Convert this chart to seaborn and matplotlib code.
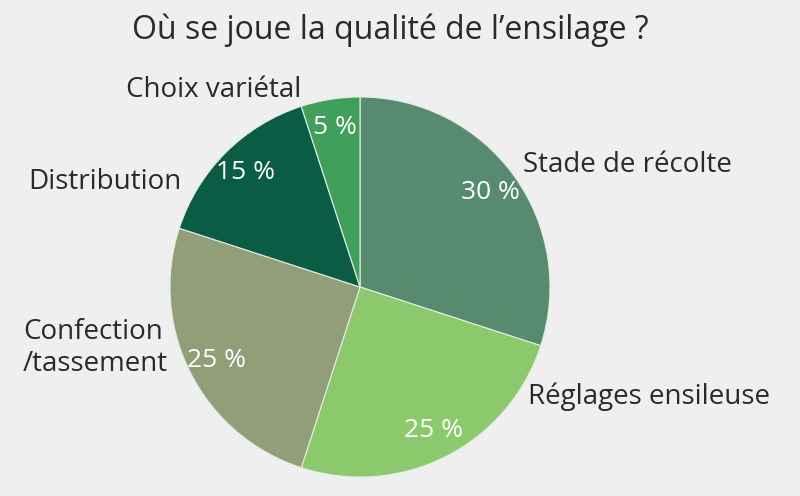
import matplotlib
matplotlib.use("Agg")
import matplotlib.pyplot as plt
import seaborn as sns

# --- données ---
categories = ["Stade de récolte", "Réglages ensileuse", "Confection\n/tassement",
              "Distribution", "Choix variétal"]
parts = [30, 25, 25, 15, 5]
couleurs = ["#578a6f", "#8cc96c", "#919e78", "#0b5c44", "#40a05b"]

sns.set_theme(style="white")
plt.rcParams['font.family'] = ['Open Sans', 'DejaVu Sans']

fond = "#efefef"
fig = plt.figure(figsize=(8, 4.96), dpi=100, facecolor=fond)
ax = fig.add_axes([0, 0, 1, 1])
ax.set_facecolor(fond)

wedges, _, pcts = ax.pie(
    parts,
    colors=couleurs,
    startangle=90,
    counterclock=False,
    center=(360, 209),
    radius=190,
    autopct=lambda p: f"{p:.0f} %",
    pctdistance=0.85,
    wedgeprops=dict(edgecolor="#dfeee2", linewidth=0.8),
    textprops=dict(color="white", fontsize=19),
    frame=True,
)
ax.set_xlim(0, 800)
ax.set_ylim(0, 496)
ax.set_aspect("equal")
ax.axis("off")

# étiquettes des catégories
positions = [(523, 331), (528, 99), (23, 148), (28, 314), (126, 406)]
for nom, (x, y) in zip(categories, positions):
    ax.text(x, y, nom, ha="left", va="center", fontsize=20, color="#2a2a2a",
            linespacing=1.15)

fig.text(0.4875, 0.94, "Où se joue la qualité de l’ensilage ?", ha="center",
         va="center", fontsize=23, color="#2a2a2a")

fig.savefig("out.png", dpi=100, facecolor=fond)
